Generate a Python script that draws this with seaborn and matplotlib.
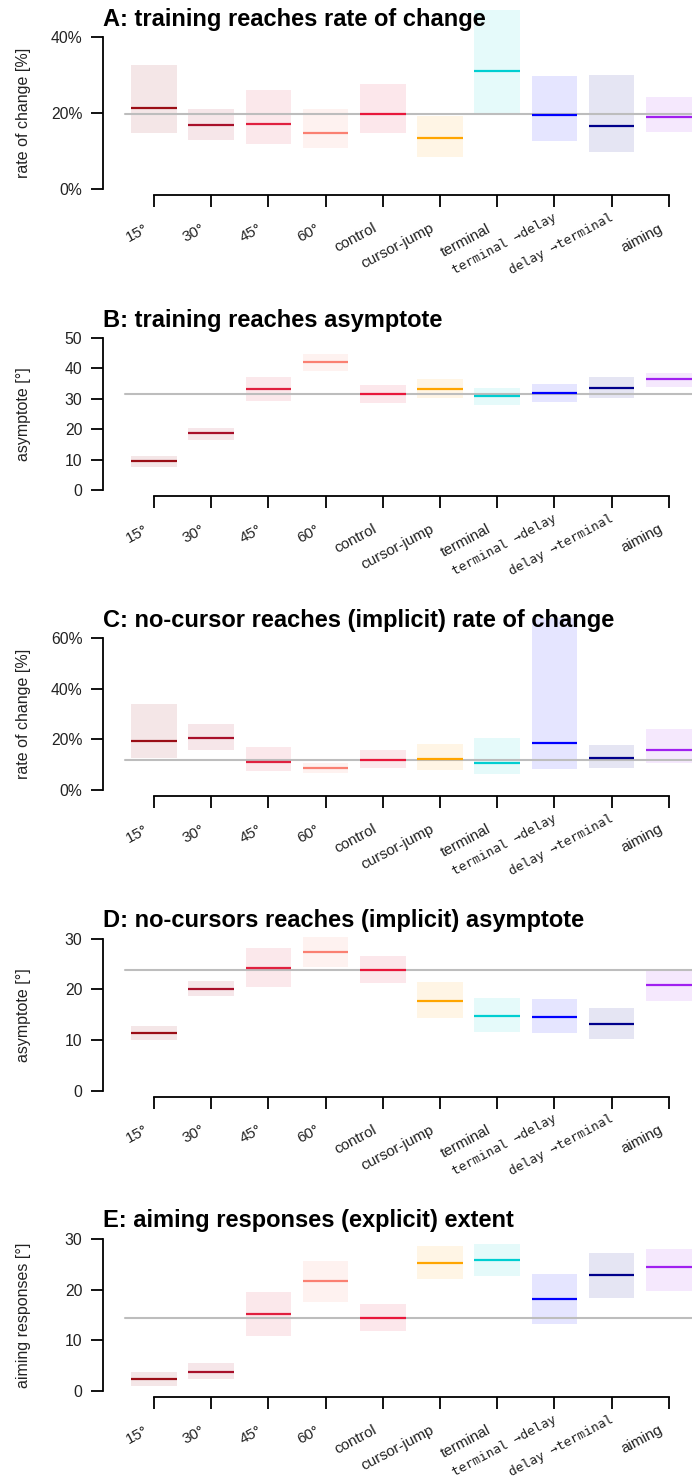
import numpy as np
import matplotlib
matplotlib.use('Agg')
import matplotlib.pyplot as plt
import seaborn as sns
from matplotlib.transforms import ScaledTranslation

# ---------------- data ----------------
conditions = ['15°', '30°', '45°', '60°', 'control', 'cursor-jump',
              'terminal', 'terminal →delay', 'delay →terminal', 'aiming']
colors = ['#9A0E16', '#A8102A', '#E0203F', '#FA8072', '#E8173B',
          '#FFA500', '#00CED1', '#0000FF', '#00008B', '#A020F0']

# A: training reaches rate of change [%]
trainRate_mid = [21.4, 16.8, 17.2, 14.9, 19.9, 13.6, 31.2, 19.5, 16.7, 19.1]
trainRate_lo = [14.9, 13.1, 12.0, 11.0, 14.7, 8.6, 20.0, 12.8, 9.9, 15.2]
trainRate_hi = [32.8, 21.2, 26.2, 21.2, 27.8, 19.4, 47.3, 29.9, 30.2, 24.4]

# B: training reaches asymptote [deg]
trainAsym_mid = [9.5, 18.6, 33.3, 42.0, 31.6, 33.2, 30.8, 32.0, 33.5, 36.5]
trainAsym_lo = [7.7, 16.5, 29.4, 39.3, 28.7, 30.1, 28.1, 29.1, 30.1, 34.0]
trainAsym_hi = [11.2, 20.5, 37.2, 44.8, 34.5, 36.5, 33.5, 34.8, 37.1, 38.6]

# C: no-cursor reaches rate of change [%]
nocurRate_mid = [19.3, 20.7, 11.2, 8.6, 11.9, 12.4, 10.7, 18.7, 12.7, 15.7]
nocurRate_lo = [12.8, 15.9, 7.6, 6.9, 8.7, 8.0, 6.3, 8.3, 8.8, 10.7]
nocurRate_hi = [34.0, 26.1, 17.0, 10.7, 15.7, 18.2, 20.6, 67.9, 17.7, 24.1]

# D: no-cursor reaches asymptote [deg]
nocurAsym_mid = [11.4, 20.1, 24.3, 27.4, 23.8, 17.7, 14.8, 14.6, 13.2, 20.9]
nocurAsym_lo = [10.0, 18.7, 20.5, 24.5, 21.3, 14.4, 11.6, 11.4, 10.3, 17.8]
nocurAsym_hi = [12.8, 21.7, 28.2, 30.4, 26.6, 21.5, 18.3, 18.1, 16.4, 23.9]

# E: aiming responses extent [deg]
aim_mid = [2.3, 3.8, 15.2, 21.8, 14.4, 25.2, 25.9, 18.2, 22.9, 24.4]
aim_lo = [1.05, 2.4, 10.9, 17.6, 11.9, 22.2, 22.6, 13.3, 18.3, 19.8]
aim_hi = [3.7, 5.5, 19.6, 25.7, 17.2, 28.6, 29.1, 23.1, 27.3, 28.1]

titles = ['A: training reaches rate of change',
          'B: training reaches asymptote',
          'C: no-cursor reaches (implicit) rate of change',
          'D: no-cursors reaches (implicit) asymptote',
          'E: aiming responses (explicit) extent']
ylabels = ['rate of change [%]', 'asymptote [°]', 'rate of change [%]',
           'asymptote [°]', 'aiming responses [°]']
yticks_list = [[0, 20, 40], [0, 10, 20, 30, 40, 50], [0, 20, 40, 60],
               [0, 10, 20, 30], [0, 10, 20, 30]]
ytick_labels = [['0%', '20%', '40%'], ['0', '10', '20', '30', '40', '50'],
                ['0%', '20%', '40%', '60%'], ['0', '10', '20', '30'],
                ['0', '10', '20', '30']]

panels = [(trainRate_mid, trainRate_lo, trainRate_hi),
          (trainAsym_mid, trainAsym_lo, trainAsym_hi),
          (nocurRate_mid, nocurRate_lo, nocurRate_hi),
          (nocurAsym_mid, nocurAsym_lo, nocurAsym_hi),
          (aim_mid, aim_lo, aim_hi)]

# ---------------- style ----------------
sns.set_theme(style='ticks')
plt.rcParams['font.family'] = ['Liberation Sans', 'DejaVu Sans']
plt.rcParams['axes.linewidth'] = 1.3

W, H = 692, 1479
fig = plt.figure(figsize=(W / 100, H / 100), dpi=100)

zero_px = [189.3, 490.0, 790.0, 1090.7, 1391.0]
span_px = 152.0
left_px, right_px = 125.4, 691.7

pos = np.arange(len(conditions))

for k in range(5):
    mid, lo, hi = panels[k]
    y0 = zero_px[k]
    ax = fig.add_axes([left_px / W, 1 - y0 / H, (right_px - left_px) / W, span_px / H])
    ax.set_facecolor('none')
    top = yticks_list[k][-1]
    ax.set_xlim(-0.5, 9.4)
    ax.set_ylim(0, top)

    # uncertainty boxes
    ax.bar(pos, np.array(hi) - np.array(lo), bottom=lo, width=0.8,
           color=colors, alpha=0.1, linewidth=0, clip_on=False, zorder=1)
    # reference line at the control value
    ax.axhline(mid[4], color='#BDBDBD', linewidth=1.5, zorder=2, clip_on=False)
    # medians
    ax.hlines(mid, pos - 0.4, pos + 0.4, colors=colors, linewidth=1.6,
              zorder=3, clip_on=False)

    # axes styling
    for s in ['top', 'right']:
        ax.spines[s].set_visible(False)
    ax.spines['left'].set_position(('outward', 22 * 0.72))
    ax.spines['bottom'].set_position(('outward', 6 * 0.72))
    ax.spines['left'].set_bounds(0, top)
    ax.spines['bottom'].set_bounds(0, 9)
    ax.spines['left'].set_color('black')
    ax.spines['bottom'].set_color('black')

    ax.set_yticks(yticks_list[k])
    ax.set_yticklabels(ytick_labels[k])
    ax.tick_params(axis='y', length=8.6, width=1.3, pad=6.5, labelsize=11.3,
                   color='black', labelcolor='#222222')
    ax.set_xticks(pos)
    ax.set_xticklabels(conditions)
    ax.tick_params(axis='x', length=8.8, width=1.3, pad=14.4, labelsize=11,
                   color='black', labelcolor='#222222')
    for lab in ax.get_xticklabels():
        lab.set_rotation(28)
        lab.set_ha('right')
        lab.set_va('center')
        lab.set_rotation_mode('anchor')
        dx, dy = -7, 0
        if '→' in lab.get_text():
            lab.set_family(['DejaVu Sans Mono'])
            lab.set_fontsize(9.3)
            dx, dy = 1, 11
        lab.set_transform(lab.get_transform() +
                          ScaledTranslation(dx / 100, dy / 100, fig.dpi_scale_trans))

    ax.set_ylabel(ylabels[k], fontsize=11.5, color='#222222')
    ax.yaxis.set_label_coords((31 - left_px) / (right_px - left_px), 0.5)

    fig.text(103 / W, 1 - (y0 - 163.5) / H, titles[k], ha='left', va='baseline',
             fontsize=17, fontweight='bold', color='black')

fig.savefig('out.png', dpi=100)
